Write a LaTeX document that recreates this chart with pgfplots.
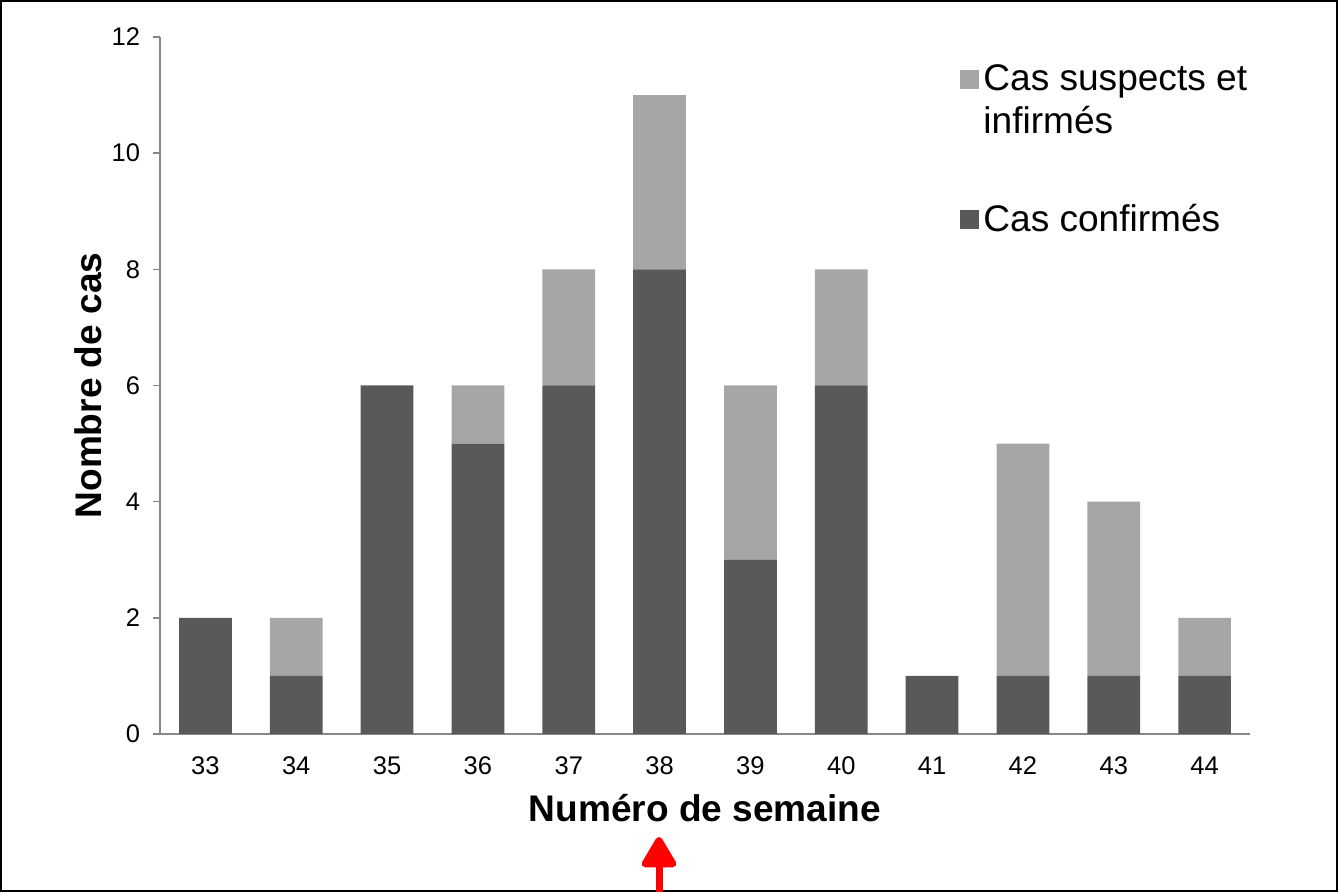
\documentclass[border=0pt]{standalone}
\usepackage{fontspec}
\setmainfont{Liberation Sans}
\usepackage{pgfplots}
\pgfplotsset{compat=1.18}
\usetikzlibrary{arrows.meta}
\definecolor{confirm}{HTML}{595959}
\definecolor{suspect}{HTML}{A6A6A6}
\definecolor{axisgray}{HTML}{878787}
\pgfplotsset{
    low legend/.style={legend image code/.code={\fill[##1] (0bp,-4.75bp) rectangle (9.5bp,4.75bp);}},
    high legend/.style={legend image code/.code={\fill[##1] (0bp,5.75bp) rectangle (9.5bp,15.25bp);}},
}
\begin{document}
\begin{tikzpicture}
\useasboundingbox (0,0) rectangle (669bp,446bp);
\draw[black, line width=1bp] (0.5bp,0.5bp) rectangle (668.5bp,445.5bp);
\begin{axis}[
    at={(80bp,79bp)}, anchor=south west,
    scale only axis, width=545bp, height=348.5bp,
    ybar stacked, bar width=0.58,
    xmin=32.5, xmax=44.5, ymin=0, ymax=12,
    xtick={33,...,44}, ytick={0,2,...,12},
    axis x line=bottom, axis y line=left,
    axis line style={axisgray, line width=0.75bp, -},
    x axis line style={shorten <=-3.5bp},
    xtick style={draw=none},
    ytick style={axisgray, line width=0.75bp},
    tick align=outside, major tick length=3.5bp,
    /pgf/number format/assume math mode=true,
    ticklabel style={font=\fontsize{12.8}{15}\selectfont, text=black},
    xticklabel style={yshift=-4.5bp},
    yticklabel style={xshift=-3bp},
    xlabel={\textbf{Numéro de semaine}},
    ylabel={\textbf{Nombre de cas}},
    label style={font=\fontsize{18.6}{22}\selectfont},
    xlabel style={at={(axis description cs:0.5,-0.106)}, anchor=center},
    ylabel style={at={(axis description cs:-0.066,0.5)}, anchor=center},
    legend style={at={(axis description cs:0.734,0.967)}, anchor=north west,
        draw=none, fill=none, inner sep=0pt,
        font=\fontsize{18.6}{21.5}\selectfont,
        cells={align=left, anchor=west}, row sep=30bp},
    low legend,
    reverse legend,
]
\addplot[fill=confirm, draw=none] coordinates {(33,2) (34,1) (35,6) (36,5) (37,6) (38,8) (39,3) (40,6) (41,1) (42,1) (43,1) (44,1)};
\addlegendentry{Cas confirmés}
\addplot[fill=suspect, draw=none, high legend]
    coordinates {(33,0) (34,1) (35,0) (36,1) (37,2) (38,3) (39,3) (40,2) (41,0) (42,4) (43,3) (44,1)};
\addlegendentry{Cas suspects et\\infirmés}
\end{axis}
\draw[red, line width=3.5bp, -{Triangle[width=19bp,length=17bp,round]}] (329.5bp,-1bp) -- (329.5bp,27.5bp);
\end{tikzpicture}
\end{document}
